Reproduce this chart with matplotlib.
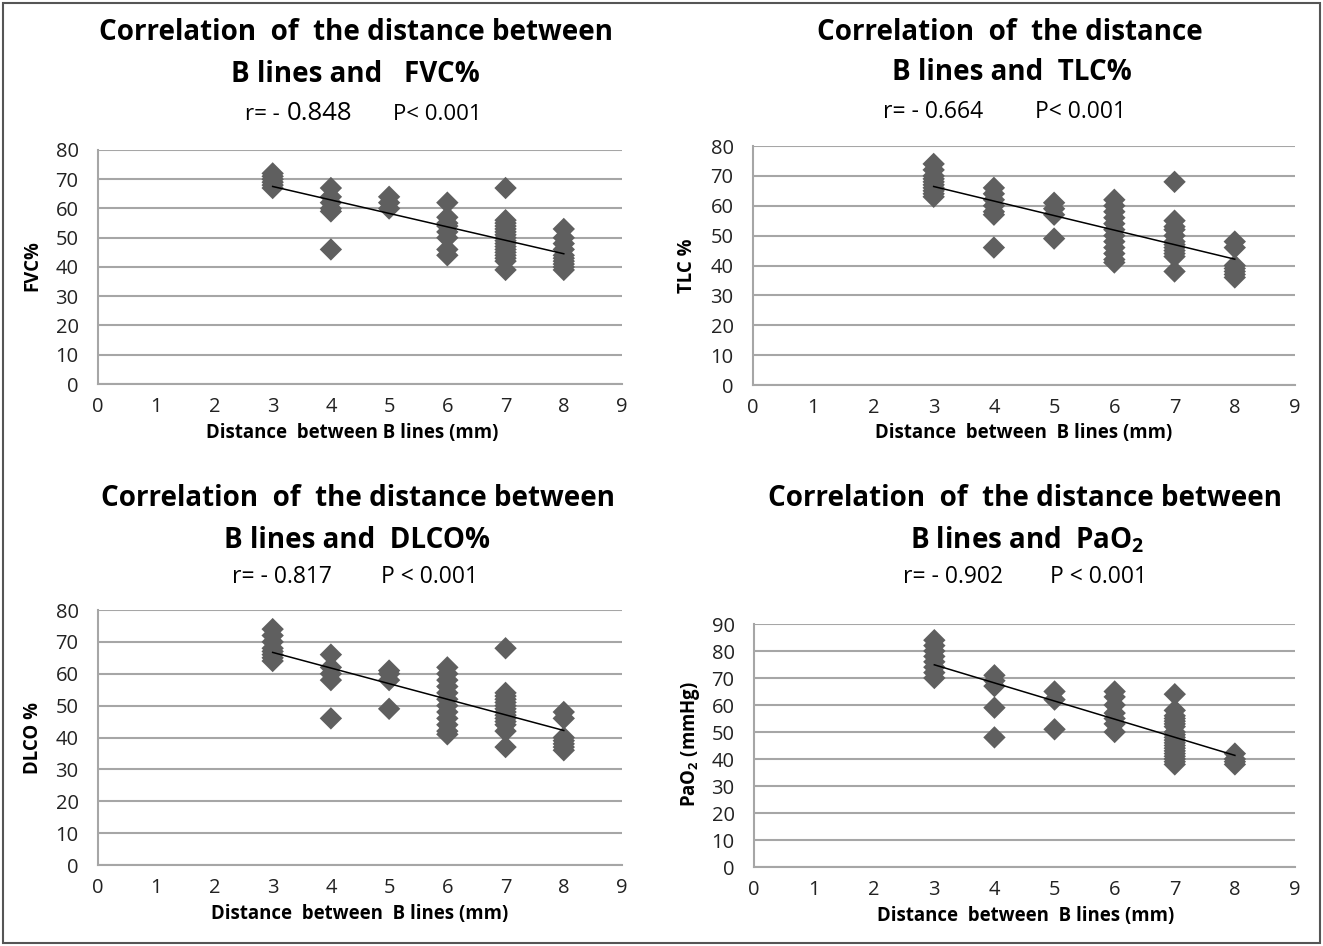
import numpy as np
import matplotlib
matplotlib.use("Agg")
import matplotlib.pyplot as plt
from matplotlib.patches import Rectangle

plt.rcParams["font.family"] = ["Open Sans", "DejaVu Sans"]
plt.rcParams["mathtext.fontset"] = "custom"
plt.rcParams["mathtext.rm"] = "Open Sans"
plt.rcParams["mathtext.bf"] = "Open Sans:bold"

W, H = 1323, 946

fvc_x = [3] * 6 + [4] * 6 + [5] * 3 + [6] * 8 + [7] * 17 + [8] * 10
fvc_y = [72, 71, 70, 69, 68, 67,
         67, 64, 62, 60, 59, 46,
         64, 62, 60,
         62, 57, 55, 54, 52, 50, 46, 44,
         67, 56, 55, 54, 53, 52, 51, 50, 49, 48, 47, 46, 45, 44, 43, 42, 39,
         53, 50, 48, 46, 44, 43, 42, 41, 40, 39]

tlc_x = [3] * 10 + [4] * 7 + [5] * 4 + [6] * 12 + [7] * 12 + [8] * 7
tlc_y = [74, 72, 70, 69, 68, 67, 66, 65, 64, 63,
         66, 64, 62, 60, 58, 57, 46,
         61, 59, 57, 49,
         62, 60, 58, 56, 54, 52, 50, 48, 46, 44, 42, 41,
         68, 55, 53, 52, 50, 48, 47, 46, 45, 44, 43, 38,
         48, 46, 40, 39, 38, 37, 36]

dlco_x = [3] * 8 + [4] * 5 + [5] * 4 + [6] * 12 + [7] * 14 + [8] * 7
dlco_y = [74, 72, 70, 68, 67, 66, 65, 64,
          66, 62, 60, 58, 46,
          61, 60, 58, 49,
          62, 60, 58, 56, 54, 52, 50, 48, 46, 44, 42, 41,
          68, 54, 53, 52, 51, 50, 49, 48, 47, 46, 45, 44, 42, 37,
          48, 46, 40, 39, 38, 37, 36]

pao2_x = [3] * 8 + [4] * 5 + [5] * 3 + [6] * 7 + [7] * 20 + [8] * 4
pao2_y = [84, 82, 80, 78, 76, 74, 72, 70,
          71, 69, 67, 59, 48,
          65, 62, 51,
          65, 63, 60, 57, 55, 53, 50,
          64, 58, 56, 55, 54, 53, 52, 50, 49, 48, 47, 46, 45, 44, 43, 42, 41, 40, 39, 38,
          42, 40, 39, 38]

x_ticks = list(range(0, 10))
r_texts = ["r= -", "r= - 0.664", "r= - 0.817", "r= - 0.902"]
p_texts = ["P< 0.001", "P< 0.001", "P < 0.001", "P < 0.001"]


def px(x, y):
    """pixel -> figure fraction"""
    return x / W, 1 - y / H


def draw_panel(fig, rect, xs, ys, ymax):
    l, t, r, b = rect
    ax = fig.add_axes([l / W, 1 - b / H, (r - l) / W, (b - t) / H])
    ax.set_xlim(0, 9)
    ax.set_ylim(0, ymax)
    ax.set_xticks(x_ticks)
    ax.set_yticks(range(0, ymax + 1, 10))
    ax.yaxis.grid(True, color="#a6a6a6", lw=1.5)
    ax.set_axisbelow(True)
    for s in ["top", "right"]:
        ax.spines[s].set_visible(False)
    for s in ["left", "bottom"]:
        ax.spines[s].set_color("#a6a6a6")
        ax.spines[s].set_linewidth(1.5)
    ax.tick_params(length=0, labelsize=14.5, colors="#222222")
    ax.tick_params(axis="y", pad=14)
    ax.tick_params(axis="x", pad=9)
    ax.scatter(xs, ys, marker="D", s=130, color="#5f5f5f", edgecolors="none", zorder=3)
    # linear trend line
    k, c = np.polyfit(xs, ys, 1)
    xl = np.array([3, 8])
    ax.plot(xl, k * xl + c, color="black", lw=1.1, zorder=4)
    return ax


fig = plt.figure(figsize=(W / 100, H / 100), dpi=100)

draw_panel(fig, (98, 150, 622, 384), fvc_x, fvc_y, 80)
draw_panel(fig, (753, 146, 1295, 385), tlc_x, tlc_y, 80)
draw_panel(fig, (98, 610, 622, 865), dlco_x, dlco_y, 80)
draw_panel(fig, (754, 624, 1295, 867), pao2_x, pao2_y, 90)

tkw = dict(ha="center", va="center", fontweight="bold", fontsize=20)
# titles
fig.text(*px(356, 33), "Correlation  of  the distance between", **tkw)
fig.text(*px(355, 75), "B lines and   FVC%", **tkw)
fig.text(*px(1010, 33), "Correlation  of  the distance", **tkw)
fig.text(*px(1012, 73), "B lines and  TLC%", **tkw)
fig.text(*px(358, 498), "Correlation  of  the distance between", **tkw)
fig.text(*px(357, 540), "B lines and  DLCO%", **tkw)
fig.text(*px(1025, 498), "Correlation  of  the distance between", **tkw)
fig.text(*px(1027, 540), "B lines and  PaO$_\\mathbf{2}$", **tkw)

# r and P values
fig.text(*px(245, 114), r_texts[0], ha="left", va="center", fontsize=16)
fig.text(*px(287, 113), "0.848", ha="left", va="center", fontsize=18.5)
fig.text(*px(393, 115), p_texts[0], ha="left", va="center", fontsize=16)
fig.text(*px(883, 112), r_texts[1], ha="left", va="center", fontsize=16.5)
fig.text(*px(1035, 112), p_texts[1], ha="left", va="center", fontsize=16.5)
fig.text(*px(232, 577), r_texts[2], ha="left", va="center", fontsize=16.5)
fig.text(*px(381, 577), p_texts[2], ha="left", va="center", fontsize=16.5)
fig.text(*px(903, 577), r_texts[3], ha="left", va="center", fontsize=16.5)
fig.text(*px(1050, 577), p_texts[3], ha="left", va="center", fontsize=16.5)

# axis labels
lkw = dict(ha="center", va="center", fontweight="bold", fontsize=13.4)
fig.text(*px(352, 433), "Distance  between B lines (mm)", **lkw)
fig.text(*px(1024, 433), "Distance  between  B lines (mm)", **lkw)
fig.text(*px(360, 914), "Distance  between  B lines (mm)", **lkw)
fig.text(*px(1026, 916), "Distance  between  B lines (mm)", **lkw)
fig.text(*px(32, 266), "FVC%", rotation=90, **lkw)
fig.text(*px(687, 266), "TLC %", rotation=90, **lkw)
fig.text(*px(33, 738), "DLCO %", rotation=90, **lkw)
fig.text(*px(690, 744), "PaO$_\\mathbf{2}$ (mmHg)", rotation=90, **lkw)

# outer frame
fig.patches.append(Rectangle((3 / W, 3 / H), 1 - 6 / W, 1 - 6 / H, transform=fig.transFigure,
                             fill=False, edgecolor="#555555", lw=1.5))

fig.savefig("out.png", dpi=100)
